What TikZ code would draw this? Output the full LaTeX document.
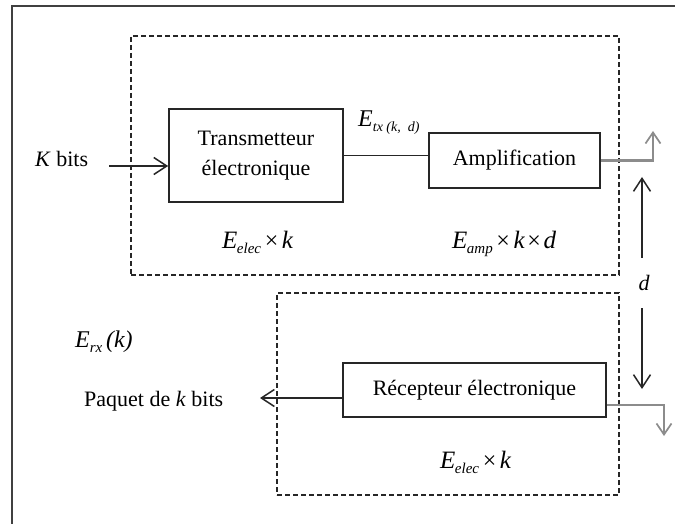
\documentclass[tikz,border=0pt]{standalone}
\usepackage{fontspec}
\setmainfont{Liberation Serif}
\usetikzlibrary{arrows.meta}

\newcommand{\ener}[1]{{\fontsize{25}{25}\selectfont\itshape E}\kern-0.5pt\raisebox{-5pt}{\fontsize{15}{15}\selectfont\itshape #1}}
\newcommand{\fois}{\,{\fontsize{24}{24}\selectfont ×}\,}

\begin{document}
\begin{tikzpicture}[x=1pt, y=-1pt,
  block/.style={draw=black!85, line width=1.7pt, fill=white, inner sep=0pt, align=center},
  frame/.style={draw=black!85, line width=1.5pt, dash pattern=on 5pt off 3pt, inner sep=0pt},
  arr/.style={line width=1.6pt, black!85, -{Straight Barb[length=13pt, width=17pt, line width=1.5pt]}},
  outarr/.style={line width=2.8pt, black!45, -{Straight Barb[length=11pt, width=15pt, line width=1.7pt]}},
  lbl/.style={inner sep=0pt, anchor=base west},
  font=\fontsize{22}{30}\selectfont]

  % The frame of the page
  \useasboundingbox (0,0) rectangle (675,524);
  \clip (0,0) rectangle (675,524);
  \fill[white] (0,0) rectangle (675,524);
  \draw[line width=1.8pt, black!75] (12,530) -- (12,6) -- (680,6);

  % Dashed frames
  \node[frame, minimum width=488, minimum height=239] (txframe) at (375,155.5) {};
  \node[frame, minimum width=342, minimum height=202] (rxframe) at (448,394) {};

  % Blocks
  \node[block, minimum width=174, minimum height=93] (tx) at (256,155.5)
    {Transmetteur\\électronique};
  \node[block, minimum width=171, minimum height=55] (amp) at (514.5,160.5)
    {Amplification};
  \node[block, minimum width=263, minimum height=54] (rx) at (474.5,390)
    {Récepteur électronique};

  % Labels
  \node[lbl] (kbits) at (35,167) {\textit{K} bits};
  \node[lbl] (etx) at (358,127)
    {{\fontsize{24}{24}\selectfont\itshape E}\raisebox{-5pt}{\fontsize{14}{14}\selectfont\itshape tx (k,~~d)}};
  \node[lbl] (etxelec) at (222,248) {\ener{elec}\fois{\fontsize{25}{25}\selectfont\itshape k}};
  \node[lbl] (eamp) at (452,248)
    {\ener{amp}\fois{\fontsize{25}{25}\selectfont\itshape k}\kern-1pt\fois\kern-1pt{\fontsize{25}{25}\selectfont\itshape d}};
  \node[lbl] (erx) at (75,347)
    {{\fontsize{24}{24}\selectfont\itshape E}\raisebox{-5pt}{\fontsize{15}{15}\selectfont\itshape rx}\,{\fontsize{24}{24}\selectfont\itshape (k)}};
  \node[lbl] (paquet) at (84,406) {Paquet de \textit{k} bits};
  \node[lbl] (erxelec) at (440,468) {\ener{elec}\fois{\fontsize{25}{25}\selectfont\itshape k}};
  \node[inner sep=0pt, minimum height=50] (dlab) at (644,283) {\fontsize{22}{22}\selectfont\itshape d};

  % Free ends
  \coordinate (kin) at (109,166);
  \coordinate (pout) at (260,398);
  \coordinate (ampup) at (653,131);
  \coordinate (rxdown) at (664,436);
  \coordinate (dtop) at (642,177);
  \coordinate (dbot) at (642,389);

  % LINES
  \draw[arr] (kin) -- (kin -| tx.west);
  \draw[line width=1.7pt, black!85] (tx.east) -- (tx.east -| amp.west);
  \draw[arr] ([yshift=-8pt]rx.west) -- (pout);

  \draw[outarr] (amp.east) -| (ampup);
  \draw[outarr] ([yshift=-15pt]rx.east) -| (rxdown);

  \draw[arr] (dlab.north -| dtop) -- (dtop);
  \draw[arr] (dlab.south -| dbot) -- (dbot);

\end{tikzpicture}
\end{document}
